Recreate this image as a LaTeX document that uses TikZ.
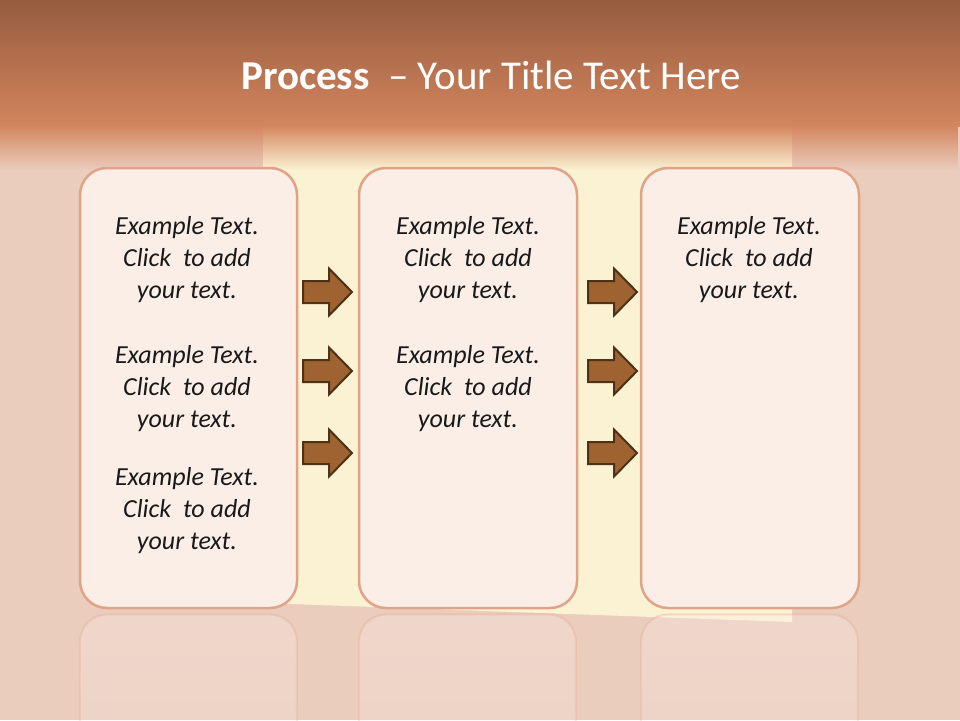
\documentclass[tikz,border=0pt]{standalone}
\usepackage{fontspec}
\setmainfont{Carlito}
\usepackage{tikz}
\usetikzlibrary{positioning,fadings}
\definecolor{band}{HTML}{965C3E}
\definecolor{bandlow}{HTML}{D3855E}
\definecolor{cork}{HTML}{EBCDBE}
\definecolor{note}{HTML}{FBF2D4}
\definecolor{card}{HTML}{FBEEE7}
\definecolor{rim}{HTML}{E0A387}
\definecolor{arrowfill}{HTML}{9E6331}
\definecolor{arrowrim}{HTML}{4E3116}
\tikzfading[name=fadedown, top color=transparent!0, bottom color=transparent!100]

\begin{document}
\begin{tikzpicture}[x=1pt, y=-1pt,
    cardbox/.style={draw=rim, fill=card, line width=2.5pt, rounded corners=27pt},
    mirror/.style={draw=rim, fill=card, line width=2pt, rounded corners=27pt,
      path fading=fadedown, opacity=0.3},
    txt/.style={align=center, text=black!90, font=\fontsize{26}{32}\selectfont\itshape},
    blockarrow/.pic={
      \draw[fill=arrowfill, draw=arrowrim, line width=2pt, line join=miter]
        (0,-11) -- (26,-11) -- (26,-23.5) -- (49,0) -- (26,23.5) -- (26,11) -- (0,11) -- cycle;
    },
  ]
  \useasboundingbox (0,0) rectangle (960,720);
  % background
  \fill[cork] (0,0) rectangle (960,720);
  \fill[note] (263,125) -- (792,125) -- (792,622) -- (263,603) -- cycle;
  \shade[top color=band, bottom color=bandlow] (0,0) rectangle (960,126);
  \fill[bandlow, path fading=fadedown] (0,125) rectangle (960,170);

  % title
  \node[text=white, font=\fontsize{41}{48}\selectfont] (title) at (491,75)
    {\textbf{Process}\ \ – Your Title Text Here};

  % reflections
  \begin{scope}
    \clip (0,612) rectangle (960,720);
    \foreach \x in {80,359,641}
      \path[mirror] (\x,614) rectangle ++(217,440);
  \end{scope}

  % cards
  \draw[cardbox] (80,168) rectangle (297,608);
  \draw[cardbox] (359,168) rectangle (577,608);
  \draw[cardbox] (641,168) rectangle (859,608);

  % arrows
  \foreach \y in {292,371,453} {
    \pic at (303,\y) {blockarrow};
    \pic at (588,\y) {blockarrow};
  }

  % texts
  \foreach \cx/\cy/\n in {187/260/a, 187/389/b, 187/511/c, 468/260/d, 468/389/e, 749/260/f}
    \node[txt] (t\n) at (\cx,\cy) {Example Text.\\Click\ \ to add\\your text.};
\end{tikzpicture}
\end{document}
